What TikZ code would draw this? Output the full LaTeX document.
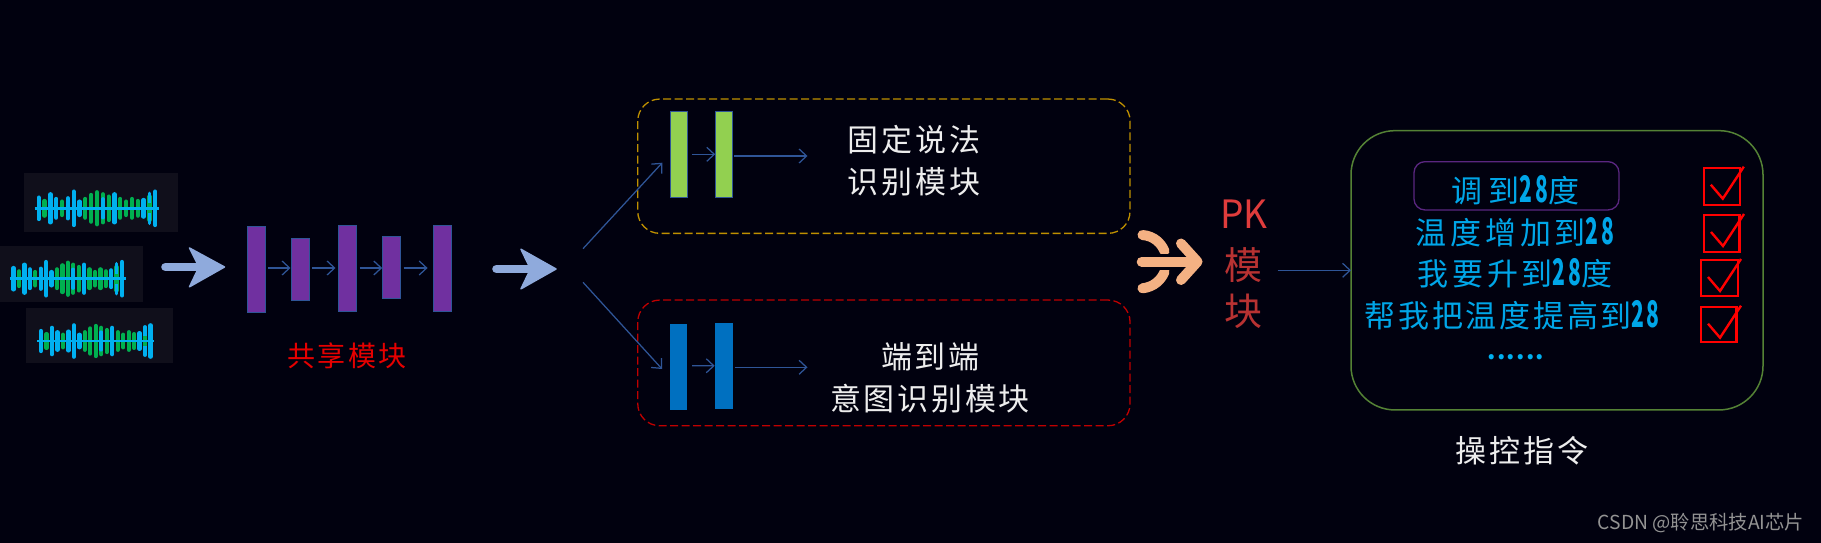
\documentclass[tikz,border=0pt]{standalone}
\usepackage{fontspec}
\usetikzlibrary{arrows.meta,calc}
\newfontfamily\cjk{Noto Sans CJK SC}
\newcommand{\ts}[3]{{\fontsize{#1}{#1}\selectfont\cjk\addfontfeature{LetterSpace=#2}#3}}
\newcommand{\nb}[1]{\scalebox{0.68}[1.18]{\bfseries #1}}
\definecolor{bgc}{HTML}{01010F}
\definecolor{panelc}{HTML}{100F1B}
\definecolor{flowc}{HTML}{2F5597}
\definecolor{bigc}{HTML}{8FAADC}
\definecolor{orc}{HTML}{F4B183}
\definecolor{purc}{HTML}{7030A0}
\definecolor{grnc}{HTML}{92D050}
\definecolor{bluc}{HTML}{0070C0}
\definecolor{cyanc}{HTML}{00A6E8}
\definecolor{wavec}{HTML}{00B0F0}
\definecolor{waveg}{HTML}{00B050}
\definecolor{whc}{HTML}{EDEDED}
\definecolor{olivec}{HTML}{548235}
\definecolor{ambc}{HTML}{BF9000}
\definecolor{pkc}{HTML}{E03C3C}
\definecolor{pkd}{HTML}{B83232}
\tikzset{
  flow/.style={draw=flowc,line width=1.25pt,-{Straight Barb[length=7.5pt,width=14pt,line width=1.25pt]}},
  barb/.style={rectangle,draw=flowc,line width=0.6pt,inner sep=0pt,outer sep=0pt},
  panel/.style={rectangle,fill=panelc,inner sep=0pt,outer sep=0pt},
  dashbox/.style={rectangle,rounded corners=22pt,line width=1.3pt,dash pattern=on 8pt off 3.5pt,inner sep=0pt,outer sep=0pt},
  tick/.style={rectangle,draw=red,line width=2.2pt,inner sep=0pt,outer sep=0pt},
  txt/.style={inner sep=0pt,outer sep=0pt,align=center},
  big/.style={fill=bigc,draw=bigc,line width=1.5pt,line join=round},
}
\newcommand{\wavefrm}[4]{%
  \begin{scope}[shift={(#1,#2)},xscale=#3,yscale=#4]
  \foreach \i/\h/\c in {1/22/waveg,4/20/waveg,8/28/waveg,9/40/waveg,10/48/waveg,11/42/waveg,12/35/waveg,14/28/waveg,15/20/waveg,16/28/waveg,17/22/waveg,19/35/waveg,0/32/wavec,2/42/wavec,3/28/wavec,5/30/wavec,6/50/wavec,7/20/wavec,13/42/wavec,18/25/wavec,20/50/wavec}{
    \draw[\c,line width=4.3pt,line cap=round] ({\i*5.83},{-\h/3}) -- ({\i*5.83},{\h/3});
  }
  \foreach \i/\h in {11/28,19/45}{
    \draw[wavec,line width=3.6pt,line cap=round] ({\i*5.83},{-\h/3}) -- ({\i*5.83},{\h/3});
  }
  \draw[waveg,line width=4pt] ({19*5.83},-5) -- ({19*5.83},5);
  \draw[wavec,line width=2.6pt] (-4,0) -- (120.5,0);
  \end{scope}}
\newcommand{\checkmk}[3]{%
  \draw[red,line width=2.4pt,line join=miter] (#2,#3) ++(7,17) -- ++(12,14) -- ++(21,-32);}
\begin{document}
\begin{tikzpicture}[x=1pt,y=-1pt]
\useasboundingbox (0,0) rectangle (1821,543);
\fill[bgc] (0,0) rectangle (1821,543);

% audio panels
\node[panel,minimum width=154pt,minimum height=59pt] (w1) at (101,202.8) {};
\node[panel,minimum width=143.5pt,minimum height=56pt] (w2) at (71.7,273.7) {};
\node[panel,minimum width=147pt,minimum height=55pt] (w3) at (99.5,335.5) {};
\wavefrm{38.7}{208.3}{1}{1}
\wavefrm{13.6}{278.7}{0.93}{1}
\wavefrm{41}{341}{0.94}{0.94}

% arrow 1
\draw[bigc,line width=8.6pt,line cap=round] (165.5,267) -- (200,267);
\filldraw[big] (189.5,248) -- (224.5,267) -- (189.5,286.8) -- (199,267) -- cycle;

% shared bars
\node[barb,fill=purc,minimum width=18pt,minimum height=86pt] (p1) at (255.8,269.7) {};
\node[barb,fill=purc,minimum width=18pt,minimum height=61.7pt] (p2) at (300,269.1) {};
\node[barb,fill=purc,minimum width=18pt,minimum height=86.4pt] (p3) at (347,268.5) {};
\node[barb,fill=purc,minimum width=18pt,minimum height=62pt] (p4) at (391.7,267.7) {};
\node[barb,fill=purc,minimum width=18pt,minimum height=86.4pt] (p5) at (442.6,268.5) {};
\draw[flow] ([xshift=3pt,yshift=1.7pt]p1.east) -- ([xshift=-0.5pt,yshift=1.1pt]p2.west);
\draw[flow] ([xshift=3pt,yshift=1.1pt]p2.east) -- ([xshift=-2.5pt,yshift=.5pt]p3.west);
\draw[flow] ([xshift=3.5pt,yshift=.5pt]p3.east) -- ([xshift=-.5pt,yshift=-.3pt]p4.west);
\draw[flow] ([xshift=3pt,yshift=-.3pt]p4.east) -- ([xshift=-6pt,yshift=.5pt]p5.west);
\node[txt,text=red!90!black] (shr) at (347,356) {\ts{28}{8}{共享模块}};

% arrow 2
\draw[bigc,line width=8.6pt,line cap=round] (496.5,269) -- (531,269);
\filldraw[big] (521,249.3) -- (556,269) -- (521,288.8) -- (530.5,269) -- cycle;

% branch
\coordinate (fork1) at (583,248.7);
\coordinate (fork2) at (583,282.3);

\node[dashbox,draw=ambc,minimum width=492.3pt,minimum height=134.3pt] (fix) at (883.9,166.2) {};
\node[dashbox,draw=red!75!black,minimum width=492.3pt,minimum height=125.7pt] (e2e) at (883.9,362.9) {};

\node[barb,fill=grnc,minimum width=17pt,minimum height=85.3pt] (g1) at (678.3,154.3) {};
\node[barb,fill=grnc,minimum width=17pt,minimum height=85.3pt] (g2) at (724.2,154.3) {};
\node[barb,draw=none,fill=bluc,minimum width=17.5pt,minimum height=86.3pt] (b1) at (678.3,367.2) {};
\node[barb,draw=none,fill=bluc,minimum width=18pt,minimum height=86.3pt] (b2) at (724.2,365.8) {};

\draw[flow] (fork1) -- ([xshift=-7.5pt,yshift=-8.4pt]g1.west);
\draw[flow] (fork2) -- ([xshift=-7.5pt,yshift=-1.8pt]b1.west);

\draw[flow] ([xshift=5pt]g1.east) -- ([xshift=-0.5pt]g2.west);
\coordinate (gout) at (807.5,156);
\draw[flow] ([xshift=1.5pt,yshift=-1.7pt]g2.east) -- (gout);
\draw[flow] ([xshift=5pt,yshift=1.5pt]b1.east) -- ([xshift=-0.5pt]b2.west);
\coordinate (bout) at (807.5,367.3);
\draw[flow] ([xshift=1.5pt,yshift=-1.5pt]b2.east) -- (bout);

\node[txt,text=whc] (t1) at (914,140) {\ts{31}{9}{固定说法}};
\node[txt,text=whc] (t2) at (914,181.7) {\ts{31}{9}{识别模块}};
\node[txt,text=whc] (t3) at (930.5,356.7) {\ts{31}{9}{端到端}};
\node[txt,text=whc] (t4) at (930,398.3) {\ts{31}{9}{意图识别模块}};

% merge arrow
\draw[orc,line width=10pt,line cap=round] (1142.5,235) .. controls (1154,236) and (1161,243) .. (1164.5,251);
\draw[orc,line width=10pt,line cap=round] (1142.5,288.3) .. controls (1154,287) and (1161,280) .. (1164.5,272);
\draw[bgc,line width=16pt] (1150,261.7) -- (1190,261.7);
\draw[orc,line width=10pt,line cap=round,line join=round] (1141.7,261.7) -- (1197,261.7);
\draw[orc,line width=10pt,line cap=round,line join=round] (1181,243.5) -- (1197.5,261.7) -- (1181,280);

% PK
\node[txt,text=pkc] (pk) at (1243.7,214) {\ts{39}{0}{\scalebox{0.95}[1]{PK}}};
\node[txt,text=pkd] (pk2) at (1243.7,265) {\ts{38}{0}{模}};
\node[txt,text=pkd] (pk3) at (1243.7,311.7) {\ts{38}{0}{块}};

% commands
\node[rectangle,draw=olivec,line width=1.5pt,rounded corners=44pt,minimum width=412pt,minimum height=279.3pt,inner sep=0pt,outer sep=0pt] (cmd) at (1557,270.3) {};
\draw[flow] ([xshift=-73.5pt]cmd.west) -- (cmd.west);

\node[rectangle,draw=purc!80!black,line width=1.3pt,rounded corners=11pt,minimum width=205pt,minimum height=48.3pt,inner sep=0pt] (sel) at (1516.5,185.8) {};
\node[txt,text=cyanc] (c1) at (1515.6,190) {\ts{31}{17}{调到\nb{28}度}};
\node[txt,text=cyanc] (c2) at (1515,232.7) {\ts{31}{12}{温度增加到\nb{28}}};
\node[txt,text=cyanc] (c3) at (1515,273) {\ts{31}{12}{我要升到\nb{28}度}};
\node[txt,text=cyanc] (c4) at (1512,315) {\ts{31}{9}{帮我把温度提高到\nb{28}}};
\node[txt,text=wavec,anchor=base] (c5) at (1516,359) {\ts{24}{5}{\bfseries ......}};

\node[tick,minimum width=36.6pt,minimum height=37.3pt] (k1) at (1722,186.3) {};
\node[tick,minimum width=35.5pt,minimum height=36.7pt] (k2) at (1721.8,233.3) {};
\node[tick,minimum width=37pt,minimum height=35.7pt] (k3) at (1719.5,277.8) {};
\node[tick,minimum width=35.5pt,minimum height=35.6pt] (k4) at (1718.7,324.5) {};
\checkmk{k1}{1703.8}{167.7}
\checkmk{k2}{1704}{215}
\checkmk{k3}{1701}{260}
\checkmk{k4}{1701}{306.7}

\node[txt,text=whc] (lab) at (1522,450.7) {\ts{31}{9}{操控指令}};
\node[txt,text=gray!85!white,anchor=east] (wm) at (1804,523) {\ts{19.3}{0}{CSDN @聆思科技AI芯片}};
\end{tikzpicture}
\end{document}
